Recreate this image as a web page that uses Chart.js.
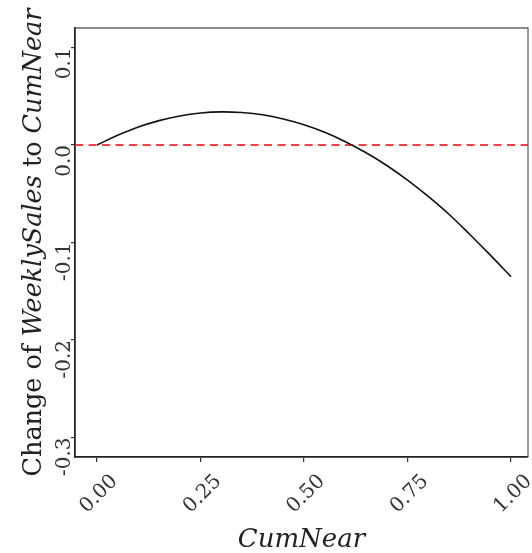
<!DOCTYPE html>
<html lang="en">

<head>
    <meta charset="UTF-8" />
    <title>Change of WeeklySales to CumNear</title>
    <script src="https://cdn.jsdelivr.net/npm/chart.js"></script>
    <style>
        body {
            margin: 0;
            background: #ffffff;
        }

        #wrap {
            width: 532px;
            height: 553px;
        }
    </style>
</head>

<body>
    <div id="wrap"><canvas id="effectChart"></canvas></div>

    <script>
        // CumNear grid and the estimated change of WeeklySales
        const cumNear = [0, 0.05, 0.10, 0.15, 0.20, 0.25, 0.30, 0.35, 0.40, 0.45, 0.50,
            0.55, 0.60, 0.65, 0.70, 0.75, 0.80, 0.85, 0.90, 0.95, 1.00];
        const salesChange = [0, 0.010, 0.0185, 0.025, 0.0298, 0.0328, 0.034, 0.0333, 0.031, 0.0267, 0.0208,
            0.013, 0.0034, -0.008, -0.021, -0.036, -0.0527, -0.071, -0.0915, -0.113, -0.135];

        const xTicks = [0, 0.25, 0.5, 0.75, 1];
        const xTickLabels = ['0.00', '0.25', '0.50', '0.75', '1.00'];
        const yTicks = [-0.3, -0.2, -0.1, 0, 0.1];
        const yTickLabels = ['-0.3', '-0.2', '-0.1', '0.0', '0.1'];
        const refLine = 0;

        const serif = '"DejaVu Serif", serif';

        // frame, zero line, rotated tick labels and the two axis titles
        const decorations = {
            id: 'decorations',
            beforeDatasetsDraw(chart) {
                const { ctx, chartArea: a, scales: { y } } = chart;
                const py = y.getPixelForValue(refLine);
                ctx.save();
                ctx.strokeStyle = '#ff0000';
                ctx.lineWidth = 1.5;
                ctx.setLineDash([8, 5.5]);
                ctx.beginPath();
                ctx.moveTo(a.left, py);
                ctx.lineTo(a.right, py);
                ctx.stroke();
                ctx.restore();
            },
            afterDraw(chart) {
                const { ctx, chartArea: a, scales: { x, y } } = chart;
                ctx.save();

                ctx.strokeStyle = '#666';
                ctx.lineWidth = 1.3;
                ctx.beginPath();
                ctx.moveTo(a.left, a.top);
                ctx.lineTo(a.right, a.top);
                ctx.lineTo(a.right, a.bottom);
                ctx.stroke();

                ctx.fillStyle = '#333';
                ctx.font = '20px ' + serif;

                yTicks.forEach((v, i) => {
                    ctx.save();
                    ctx.translate(70, y.getPixelForValue(v));
                    ctx.rotate(-Math.PI / 2);
                    ctx.textAlign = 'right';
                    ctx.textBaseline = 'alphabetic';
                    ctx.fillText(yTickLabels[i], 0, 0);
                    ctx.restore();
                });

                xTicks.forEach((v, i) => {
                    ctx.save();
                    ctx.translate(x.getPixelForValue(v) + 2, 494);
                    ctx.rotate(-Math.PI / 4);
                    ctx.textAlign = 'center';
                    ctx.textBaseline = 'middle';
                    ctx.fillText(xTickLabels[i], 0, 0);
                    ctx.restore();
                });

                ctx.fillStyle = '#222';
                ctx.font = 'italic 26px ' + serif;
                ctx.textAlign = 'center';
                ctx.textBaseline = 'alphabetic';
                ctx.fillText('CumNear', (a.left + a.right) / 2, 547);

                // y title mixes upright and italic words
                const parts = [
                    ['Change of ', ''],
                    ['WeeklySales', 'italic '],
                    [' to ', ''],
                    ['CumNear', 'italic ']
                ];
                const size = '25.5px ';
                const widths = parts.map(([t, s]) => {
                    ctx.font = s + size + serif;
                    return ctx.measureText(t).width;
                });
                const total = widths.reduce((p, w) => p + w, 0);
                ctx.translate(41, (a.top + a.bottom) / 2);
                ctx.rotate(-Math.PI / 2);
                ctx.textAlign = 'left';
                let pos = -total / 2;
                parts.forEach(([t, s], i) => {
                    ctx.font = s + size + serif;
                    ctx.fillText(t, pos, 0);
                    pos += widths[i];
                });

                ctx.restore();
            }
        };

        new Chart(document.getElementById('effectChart'), {
            type: 'line',
            data: {
                datasets: [{
                    data: cumNear.map((c, i) => ({ x: c, y: salesChange[i] })),
                    borderColor: '#111',
                    borderWidth: 1.6,
                    pointRadius: 0,
                    tension: 0.4,
                    fill: false
                }]
            },
            options: {
                responsive: true,
                maintainAspectRatio: false,
                animation: false,
                layout: { padding: { top: 28, right: 4, left: 0, bottom: 0 } },
                plugins: {
                    legend: { display: false },
                    tooltip: { enabled: false }
                },
                scales: {
                    x: {
                        type: 'linear',
                        min: -0.053,
                        max: 1.041,
                        afterBuildTicks: s => { s.ticks = xTicks.map(v => ({ value: v })); },
                        afterFit: s => { s.height = 96; },
                        ticks: { display: false },
                        grid: { drawOnChartArea: false, tickLength: 5, color: '#333', lineWidth: 1.2 },
                        border: { display: true, color: '#222', width: 1.8 }
                    },
                    y: {
                        type: 'linear',
                        min: -0.32,
                        max: 0.12,
                        afterBuildTicks: s => { s.ticks = yTicks.map(v => ({ value: v })); },
                        afterFit: s => { s.width = 75; },
                        ticks: { display: false },
                        grid: { drawOnChartArea: false, tickLength: 4, color: '#333', lineWidth: 1.2 },
                        border: { display: true, color: '#222', width: 1.8 }
                    }
                }
            },
            plugins: [decorations]
        });
    </script>
</body>

</html>
